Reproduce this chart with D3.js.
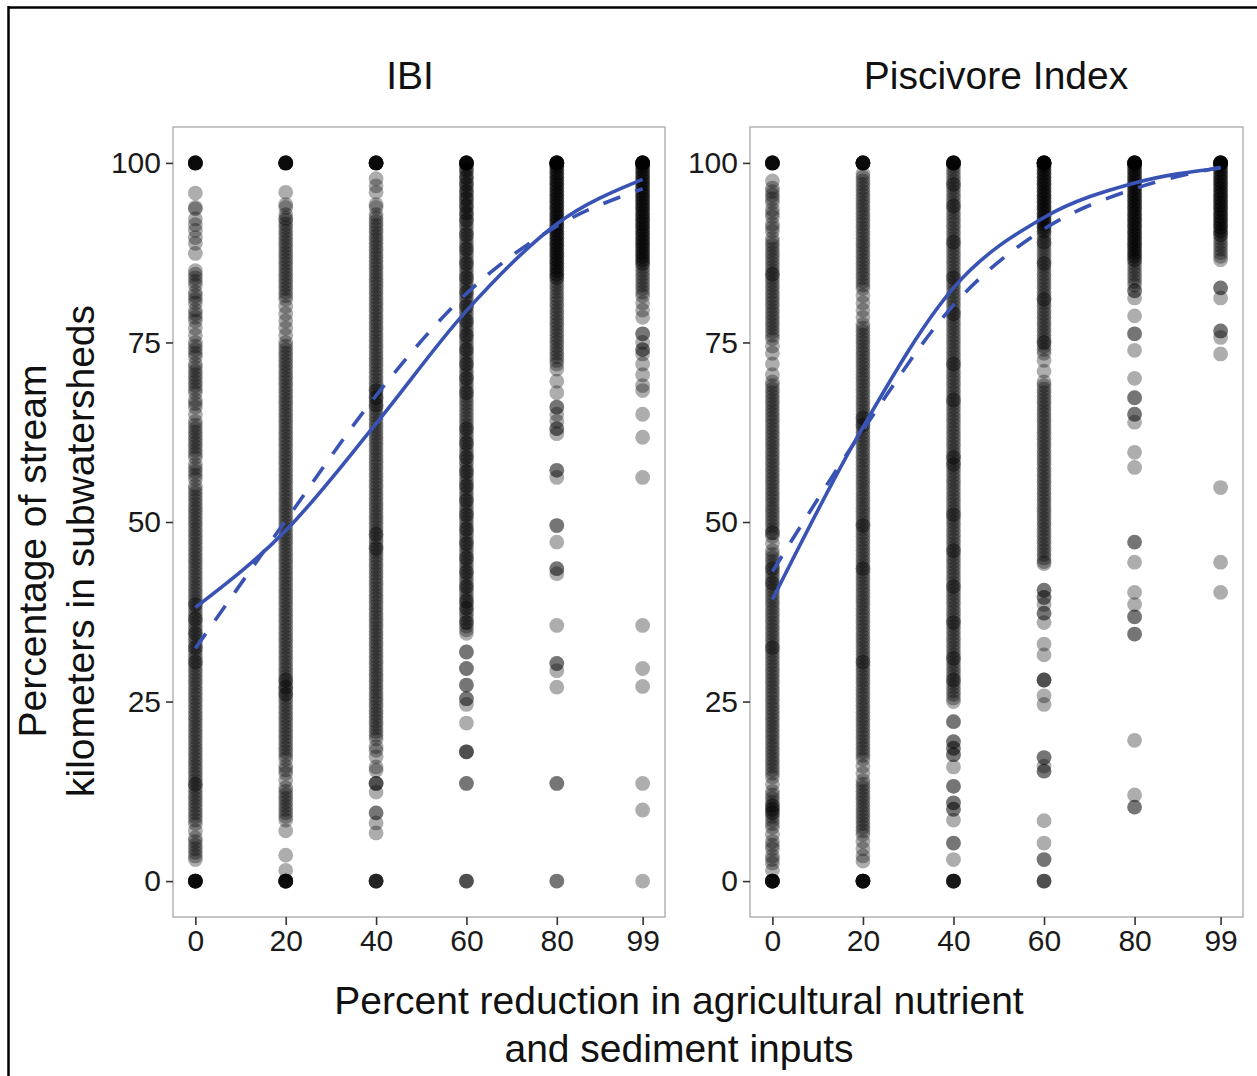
<!DOCTYPE html>
<html><head><meta charset="utf-8">
<script src="https://cdn.jsdelivr.net/npm/d3@7"></script>
<style>body{margin:0;background:#fff}svg{display:block}text{font-family:"Liberation Sans",Arial,Helvetica,sans-serif}</style>
</head><body>
<svg id="c" width="1257" height="1076"></svg>
<script>
// ---------- data ----------
const xLevels = [0, 20, 40, 60, 80, 99];
const xTickLabels = ["0", "20", "40", "60", "80", "99"];
const yTicks = [0, 25, 50, 75, 100];
const panelTitles = ["IBI", "Piscivore Index"];
const xTitleLines = ["Percent reduction in agricultural nutrient", "and sediment inputs"];
const yTitleLines = ["Percentage of stream", "kilometers in subwatersheds"];

// percentage of stream km meeting the target, one value per subwatershed
const ibi0 = [100,100,100,100,100,100,100,100,95.8,93.8,93.6,92.2,91.4,90.6,89.6,88.8,87.4,
85,84.5,84,83.5,83,82,81.5,81,80.5,79.5,79,78.5,78,77,76,75,74.5,74,73.5,73,72,71.5,71,70.5,70,69.5,69,68.5,68,67,66.5,66,65,64,63.5,63,62.5,62,61.5,61,60.5,60,59.5,59,58,57.5,57,56.5,56,55,54.5,54,53.5,53,52.5,52,51.5,51,50.5,50,
49.5,49,48.5,48,47.5,47,46.5,46,45.5,45,44.5,44,43.5,43,42.5,42,41.5,41,40.5,40,39.5,39,38.5,38.5,38,37.5,37,36.5,36.5,36,35.5,35,34.5,34.5,34,33.5,33,32.5,32.5,32,31.5,31,30.5,30.5,30,29.5,29,28.5,28,27.5,27,26.5,26,25.5,25,24.5,24,23.5,23,22.5,22,21.5,21,20.5,20,19.5,19,18.5,18,17.5,17,16.5,16,15.5,15,14.5,14,13.5,13.5,13,12.5,12,11.5,11,10.5,10,9.5,9,8.5,8,7,6,5.5,5,4.5,4,3.5,3,
0,0,0,0,0,0,0,0];
const ibi20 = [100,100,100,100,100,100,100,100,95.9,94.2,93.8,92.8,92.3,92,91.5,91,90.5,90,89.5,89,88.5,88,87.5,87,86.5,86,85.5,85,84.5,84,83.5,83,82.5,82,81.5,81,80,79,78,77,76,75,74.5,74,73.5,73,72.5,72,71.5,71,70.5,70,69.5,69,68.5,68,67.5,67,66.5,66,65.5,65,64.5,64,63.5,63,62.5,62,61.5,61,60.5,60,59.5,59,58.5,58,57.5,57,56.5,56,55.5,55,54.5,54,53.5,53,52.5,52,51.5,51,50.5,50,
49.5,49,48.5,48,47.5,47,46.5,46,45.5,45,44.5,44,43.5,43,42.5,42,41.5,41,40.5,40,39.5,39,38.5,38,37.5,37,36.5,36,35.5,35,34.5,34,33.5,33,32.5,32,31.5,31,30.5,30,29.5,29,28.5,28,28,27.5,27,27,26.5,26,26,25.5,25,24.5,24,23.5,23,22.5,22,21.5,21,20.5,20,19.5,19,18.5,18,17.5,17,16,15.5,15,14,13,12.5,12,11.5,11,10.5,10,9.5,9,8.5,7,3.6,1.5,
0,0,0,0,0,0,0,0];
const ibi40 = [100,100,100,100,100,100,100,100,97.8,96.8,95.9,94.2,93.8,92.8,92.3,91.8,91.3,90.8,90.3,89.8,89.3,88.8,88.3,87.8,87.3,86.8,86.3,85.8,85.3,84.8,84.3,83.8,83.3,82.8,82.3,81.8,81.3,80.8,80.3,79.8,79.3,78.8,78.3,77.8,77.3,76.8,76.3,75.8,75.3,74.8,74.3,73.8,73.3,72.8,72.3,71.8,71.3,70.8,70.3,69.8,69.3,68.8,68.3,68.3,67.8,67.3,67.3,66.8,66.3,66.3,65.8,65.3,64.8,64.3,63.8,63.3,62.8,62.3,61.8,61.3,60.8,60.3,59.8,59.3,58.8,58.3,57.8,57.3,56.8,56.3,55.8,55.3,54.8,54.3,53.8,53.3,52.8,52.3,51.8,51.3,50.8,50.3,
49.8,49.3,48.8,48.3,48.3,47.8,47.3,46.8,46.3,46.3,45.8,45.3,44.8,44.3,43.8,43.3,42.8,42.3,41.8,41.3,40.8,40.3,39.8,39.3,38.8,38.3,37.8,37.3,36.8,36.3,35.8,35.3,34.8,34.3,33.8,33.3,32.8,32.3,31.8,31.3,30.8,30.3,29.8,29.3,28.8,28.3,27.8,27.3,26.8,26.3,25.8,25.3,24.8,24.3,23.8,23.3,22.8,22.3,21.8,21.3,20.8,20.3,19.8,18.7,18.2,17.3,15.9,15.4,13.6,13.6,13.6,12.4,9.5,9.5,8.1,6.7,
0,0,0,0,0];
const ibi60 = [100,100,100,100,100,100,100,100,99.5,99,99,98.5,98,98,97.5,97,97,96.5,96,96,95.5,95,95,94.5,94,94,93.5,93,93,92.5,92,92,91.5,91,90.5,90,90,89.5,89,88.5,88,88,87.5,87,86.5,86,86,85.5,85,84.5,84,84,83.5,83,82.5,82,82,81.5,81,80.5,80,80,79.5,79,78.5,78,78,77.5,77,76.5,76,76,75.5,75,74.5,74,74,73.5,73,72.5,72,72,71.5,71,70.5,70,70,69.5,69,68.5,68,68,67.5,67,66.5,66,65.5,65,64.5,64,63.5,63,63,62.5,62,61.5,61,61,60.5,60,59.5,59,59,58.5,58,57.5,57,57,56.5,56,55.5,55,55,54.5,54,53.5,53,53,52.5,52,51.5,51,51,50.5,50,
49.5,49,49,48.5,48,47.5,47,47,46.5,46,45.5,45,45,44.5,44,43.5,43,43,42.5,42,41.5,41,41,40.5,40,39.5,39,39,38.5,38,38,37.5,37,36.5,36,36,35.5,35,34.5,31.9,31.9,29.6,29.6,27.3,27.3,25.4,25.4,24.6,22,18,18,18,13.6,13.6,
0,0,0];
const ibi80 = [100,100,100,100,100,100,100,100,100,100,99.5,99.5,99,99,98.5,98.5,98,98,97.5,97.5,97,97,96.5,96.5,96,96,95.5,95.5,95,95,94.5,94.5,94,94,93.5,93.5,93,93,92.5,92.5,92,92,91.5,91.5,91,91,90.5,90.5,90,90,89.5,89.5,89,89,88.5,88.5,88,88,87.5,87.5,87,87,86.5,86.5,86,86,85.5,85.5,85,85,84.5,84.5,84,84,
83.5,83,82.5,82,81.5,81,80.5,80,79.5,79,78.5,78,77.5,77,76.5,76,75.5,75,74.5,74,73.5,73,72.5,72,71.3,69.6,68,66,66,65,64,63,63,62.3,57.2,57.2,56.2,49.5,49.5,47.2,43.5,43.5,42.8,35.6,30.3,30.3,29.3,27,13.6,13.6,
0,0];
const ibi99 = [100,100,100,100,100,100,100,100,100,100,99.5,99.5,99,99,98.5,98.5,98,98,97.5,97.5,97,97,96.5,96.5,96,96,95.5,95.5,95,95,94.5,94.5,94,94,93.5,93.5,93,93,92.5,92.5,92,92,91.5,91.5,91,91,90.5,90.5,90,90,89.5,89.5,89,89,88.5,88.5,88,88,87.5,87.5,87,87,86.5,86.5,86,86,
85.5,85,84.5,84,83.5,83,82.5,82,81.5,80.5,79.5,78.5,76.2,76.2,75,74,74,73.4,72,70.5,69,68.3,65,61.8,56.2,35.6,29.6,27.1,13.6,9.9,
0];

const pisc0 = [100,100,100,100,100,100,100,100,97.5,96.5,96,95.5,95,94.5,93.5,93,92.5,91.5,91,90.5,89.5,89,88.5,88,87.5,87,86.5,86,85.5,85,84.5,84.5,84,83.5,83,82.5,82,81.5,81,80.5,80,79.5,79,78.5,78,77.5,77,76.5,76,75.5,74.5,73.5,72,70.5,69.5,69,68.5,68,67.5,67,66.5,66,65.5,65,64.5,64,63.5,63,62.5,62,61.5,61,60.5,60,59.5,59,58.5,58,57.5,57,56.5,56,55.5,55,54.5,54,53.5,53,52.5,52,51.5,51,50.5,50,
49.5,49,48.5,48.5,48,47,46,45.5,45,44.5,44,43.5,43.5,43,42.5,42,41.5,41.5,41,40.5,40,39.5,39,38.5,38,37.5,37,36.5,36,35.5,35,34.5,34,33.5,33,32.5,32.5,32,31.5,31,30.5,30,29.5,29,28.5,28,27.5,27,26.5,26,25.5,25,24.5,24,23.5,23,22.5,22,21.5,21,20.5,20,19.5,19,18.5,18,17.5,17,16.5,16,15.5,15,14.5,13.5,12.5,12,11.5,11,10.5,10.5,10,10,9.5,9.5,9,8.5,8,7.5,6.5,5.5,5,4.5,3.5,3,2.5,1.5,
0,0,0,0,0,0,0,0];
const pisc20 = [100,100,100,100,100,100,100,100,98.5,98,97.5,97,96.5,96,95.5,95,94.5,94,93.5,93,92.5,92,91.5,91,90.5,90,89.5,89,88.5,88,87.5,87,86.5,86,85.5,85,84.5,84,83.5,83,82.5,81.5,80.5,79.5,78.5,77.5,77,76.5,76,75.5,75,74.5,74,73.5,73,72.5,72,71.5,71,70.5,70,69.5,69,68.5,68,67.5,67,66.5,66,65.5,65,64.5,64.5,64,63.5,63.5,63,62.5,62,61.5,61,60.5,60,59.5,59,58.5,58,57.5,57,56.5,56,55.5,55,54.5,54,53.5,53,52.5,52,51.5,51,50.5,50,
49.5,49.5,49,48.5,48,47.5,47,46.5,46,45.5,45,44.5,44,43.5,43.5,43,42.5,42,41.5,41,40.5,40,39.5,39,38.5,38,37.5,37,36.5,36,35.5,35,34.5,34,33.5,33,32.5,32,31.5,31,30.5,30.5,30,29.5,29,28.5,28,27.5,27,26.5,26,25.5,25,24.5,24,23.5,23,22.5,22,21.5,21,20.5,20,19.5,19,18.5,18,17.5,17,16,15,14,13.5,13,12.5,12,11.5,11,10.5,10,9.5,9,8.5,8,7.5,7,6.5,5.5,4.5,3.5,2.8,
0,0,0,0,0,0,0,0];
const pisc40 = [100,100,100,100,100,100,100,100,99.5,99,98.5,98,97.5,97,97,96.5,96,95.5,95,94.5,94,94,93.5,93,92.5,92,91.5,91,90.5,90,89.5,89,89,88.5,88,87.5,87,86.5,86,85.5,85,84.5,84,84,83.5,83,82.5,82,81.5,81,80.5,80,79.5,79,79,78.5,78,77.5,77,76.5,76,75.5,75,74.5,74,73.5,73,72.5,72,72,71.5,71,70.5,70,69.5,69,68.5,68,67.5,67,67,66.5,66,65.5,65,64.5,64,63.5,63,62.5,62,61.5,61,60.5,60,59.5,59,59,58.5,58,58,57.5,57,56.5,56,55.5,55,54.5,54,53.5,53,52.5,52,51.5,51,51,50.5,50,
49.5,49,48.5,48,47.5,47,46.5,46,46,45.5,45,44.5,44,43.5,43,42.5,42,41.5,41,41,40.5,40,39.5,39,38.5,38,37.5,37,36.5,36,36,35.5,35,34.5,34,33.5,33,32.5,32,31.5,31,31,30.5,30,29.5,29,28.5,28,28,27.5,27,26.5,26,25.5,25,22.2,22.2,19.4,19.4,18.5,18.5,17.6,17.6,15.9,13.2,13.2,10.9,10.9,10,10,8.5,5.3,5.3,3,
0,0,0,0,0,0];
const pisc60 = [100,100,100,100,100,100,100,100,100,100,99.5,99.5,99,99,98.5,98.5,98,98,97.5,97.5,97,97,96.5,96.5,96,96,95.5,95.5,95,95,94.5,94.5,94,94,93.5,93.5,93,93,92.5,92.5,92,92,91.5,91.5,91,91,90.5,90.5,
90,89.5,89,89,88.5,88,87.5,87,86.5,86,86,85.5,85,84.5,84,83.5,83,82.5,82,81.5,81,81,80.5,80,79.5,79,78.5,78,77.5,77,76.5,76,75.5,75,75,74.5,74,73.5,72.5,71,69.5,69,68.5,68,67.5,67,66.5,66,65.5,65,64.5,64,63.5,63,62.5,62,61.5,61,60.5,60,59.5,59,58.5,58,57.5,57,56.5,56,55.5,55,54.5,54,53.5,53,52.5,52,51.5,51,50.5,50,
49.5,49,48.5,48,47.5,47,46.5,46,45.5,45,44.5,44.2,40.5,40.5,39.5,39.5,38.5,37.3,37.3,36,33,31.5,28,28,28,25.8,24.6,17.2,17.2,16,15.3,15.3,8.4,5.3,3,3,
0,0,0];
const pisc80 = [100,100,100,100,100,100,100,100,100,100,99.5,99.5,99,99,98.5,98.5,98,98,97.5,97.5,97,97,96.5,96.5,96,96,95.5,95.5,95,95,94.5,94.5,94,94,93.5,93.5,93,93,92.5,92.5,92,92,91.5,91.5,91,91,90.5,90.5,90,90,89.5,89.5,89,89,88.5,88.5,88,88,87.5,87.5,87,87,86.5,86.5,
86,85.5,85,84.5,84,83.5,83,82.2,82.2,81.2,78.7,76.2,76.2,73.9,70,67.3,67.3,65,65,63.9,59.7,57.6,47.2,47.2,44.4,40.2,38.5,36.8,36.8,34.4,34.4,19.6,12,10.3,10.3];
const pisc99 = [100,100,100,100,100,100,100,100,100,100,99.5,99.5,99,99,98.5,98.5,98,98,97.5,97.5,97,97,96.5,96.5,96,96,95.5,95.5,95,95,94.5,94.5,94,94,93.5,93.5,93,93,92.5,92.5,92,92,91.5,91.5,91,91,90.5,90.5,90,90,
89.5,89,88.5,88,87.5,87,86.5,82.6,82.6,81.2,76.6,76.6,75.7,73.4,54.8,44.4,40.2];

// fitted curves (values at xLevels)
const ibiSolid   = [38.1, 48.8, 63.7, 79.4, 91.5, 97.7];
const ibiDashed  = [32.4, 50.2, 67.6, 81.8, 91.2, 96.4];
const piscSolid  = [39.2, 63.2, 82.6, 92.4, 97.2, 99.3];
const piscDashed = [43.1, 62.8, 80.2, 90.8, 96.4, 99.4];

// ---------- drawing ----------
const svg = d3.select("#c");
const FONT = '"Liberation Sans", Arial, Helvetica, sans-serif';
const blue = "#3953b4";
const panelTop = 127, panelBottom = 917;

const panels = [
  {title: panelTitles[0], cols: [ibi0, ibi20, ibi40, ibi60, ibi80, ibi99], solid: ibiSolid, dashed: ibiDashed, x0: 173, x1: 665, titleX: 410},
  {title: panelTitles[1], cols: [pisc0, pisc20, pisc40, pisc60, pisc80, pisc99], solid: piscSolid, dashed: piscDashed, x0: 750, x1: 1243, titleX: 996}
];

const y = d3.scaleLinear().domain([-5, 105]).range([panelBottom, panelTop]);

// outer frame (top and left edges)
svg.append("line").attr("x1", 8).attr("x2", 1257).attr("y1", 7.5).attr("y2", 7.5).attr("stroke", "#000").attr("stroke-width", 2.5);
svg.append("line").attr("x1", 8.5).attr("x2", 8.5).attr("y1", 6).attr("y2", 1076).attr("stroke", "#000").attr("stroke-width", 2.5);

panels.forEach(p => {
  const x = d3.scaleLinear().domain([-4.95, 103.95]).range([p.x0, p.x1]);
  const g = svg.append("g");

  // points
  const pts = [];
  p.cols.forEach((col, i) => col.forEach(v => pts.push({x: xLevels[i], y: v})));
  g.append("g").selectAll("circle").data(pts).join("circle")
    .attr("cx", d => x(d.x)).attr("cy", d => y(d.y)).attr("r", 7.4)
    .attr("fill", "#000").attr("fill-opacity", 0.32);

  // curves
  const line = d3.line().x((d, i) => x(xLevels[i])).y(d => y(d)).curve(d3.curveMonotoneX);
  g.append("path").attr("d", line(p.dashed)).attr("fill", "none").attr("stroke", blue)
    .attr("stroke-width", 3.6).attr("stroke-dasharray", "18,16");
  g.append("path").attr("d", line(p.solid)).attr("fill", "none").attr("stroke", blue)
    .attr("stroke-width", 3.6);

  // panel border
  g.append("rect").attr("x", p.x0).attr("y", panelTop).attr("width", p.x1 - p.x0).attr("height", panelBottom - panelTop)
    .attr("fill", "none").attr("stroke", "#a8a8a8").attr("stroke-width", 1.3);

  // axes
  const ya = g.append("g").attr("transform", `translate(${p.x0},0)`)
    .call(d3.axisLeft(y).tickValues(yTicks).tickSize(7).tickPadding(5));
  const xa = g.append("g").attr("transform", `translate(0,${panelBottom})`)
    .call(d3.axisBottom(x).tickValues(xLevels).tickFormat((d, i) => xTickLabels[i]).tickSize(8).tickPadding(5));
  [ya, xa].forEach(a => {
    a.select(".domain").remove();
    a.selectAll("line").attr("stroke", "#333").attr("stroke-width", 1.6);
    a.selectAll("text").attr("font-size", 30).attr("font-family", FONT).attr("fill", "#1a1a1a");
  });

  // strip title
  svg.append("text").attr("x", p.titleX).attr("y", 89).attr("text-anchor", "middle")
    .attr("font-size", 39).attr("font-family", FONT).attr("fill", "#111").text(p.title);
});

// x axis title
xTitleLines.forEach((t, i) => {
  svg.append("text").attr("x", 679).attr("y", 1014 + i * 48).attr("text-anchor", "middle")
    .attr("font-size", 39).attr("font-family", FONT).attr("fill", "#111").text(t);
});
// y axis title
yTitleLines.forEach((t, i) => {
  svg.append("text").attr("transform", `translate(${46 + i * 48},551) rotate(-90)`).attr("text-anchor", "middle")
    .attr("font-size", 39).attr("font-family", FONT).attr("fill", "#111").text(t);
});
</script>
</body></html>
